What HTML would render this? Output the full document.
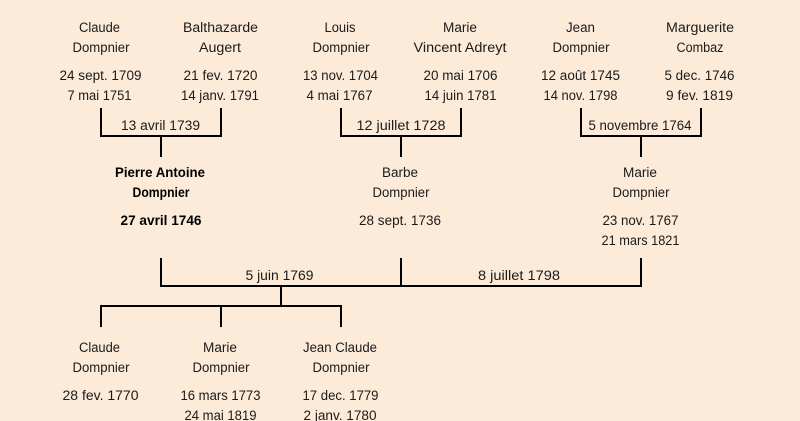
<!DOCTYPE html>
<html lang="fr">
<head>
<meta charset="utf-8">
<title>Arbre généalogique Dompnier</title>
<style>
html,body{margin:0;padding:0;background:#fdebd9;width:800px;height:421px;overflow:hidden}
svg{display:block}
text{font-family:"Liberation Sans",sans-serif;font-size:13.5px;fill:#1a1a1a;text-anchor:middle}
.b{font-weight:bold;fill:#000}
path{fill:none;stroke:#000;stroke-width:2;stroke-linejoin:miter;stroke-linecap:butt}
</style>
</head>
<body>
<svg width="800" height="421" viewBox="0 0 800 421" xmlns="http://www.w3.org/2000/svg">
<rect width="800" height="421" fill="#fdebd9"/>

<path d="M101 108V136H221V108M161 136V157"/>
<path d="M341 108V136H461V108M401 136V157"/>
<path d="M581 108V136H701V108M641 136V157"/>
<path d="M161 258V286H641V258M401 258V286"/>
<path d="M281 286V306M101 327V306H341V327M221 306V327"/>

<text x="99.5" y="32" textLength="41" lengthAdjust="spacingAndGlyphs">Claude</text>
<text x="101" y="52" textLength="57" lengthAdjust="spacingAndGlyphs">Dompnier</text>
<text x="100.5" y="80" textLength="82" lengthAdjust="spacingAndGlyphs">24 sept. 1709</text>
<text x="99.5" y="100" textLength="64" lengthAdjust="spacingAndGlyphs">7 mai 1751</text>

<text x="220.5" y="32" textLength="75" lengthAdjust="spacingAndGlyphs">Balthazarde</text>
<text x="220" y="52" textLength="42" lengthAdjust="spacingAndGlyphs">Augert</text>
<text x="220.5" y="80" textLength="74" lengthAdjust="spacingAndGlyphs">21 fev. 1720</text>
<text x="220" y="100" textLength="78" lengthAdjust="spacingAndGlyphs">14 janv. 1791</text>

<text x="340" y="32" textLength="31" lengthAdjust="spacingAndGlyphs">Louis</text>
<text x="341" y="52" textLength="57" lengthAdjust="spacingAndGlyphs">Dompnier</text>
<text x="340.5" y="80" textLength="75" lengthAdjust="spacingAndGlyphs">13 nov. 1704</text>
<text x="339.5" y="100" textLength="66" lengthAdjust="spacingAndGlyphs">4 mai 1767</text>

<text x="460" y="32" textLength="34" lengthAdjust="spacingAndGlyphs">Marie</text>
<text x="460" y="52" textLength="93" lengthAdjust="spacingAndGlyphs">Vincent Adreyt</text>
<text x="460.5" y="80" textLength="74" lengthAdjust="spacingAndGlyphs">20 mai 1706</text>
<text x="460.5" y="100" textLength="72" lengthAdjust="spacingAndGlyphs">14 juin 1781</text>

<text x="580.5" y="32" textLength="29" lengthAdjust="spacingAndGlyphs">Jean</text>
<text x="581" y="52" textLength="57" lengthAdjust="spacingAndGlyphs">Dompnier</text>
<text x="580.5" y="80" textLength="79" lengthAdjust="spacingAndGlyphs">12 août 1745</text>
<text x="580.5" y="100" textLength="74" lengthAdjust="spacingAndGlyphs">14 nov. 1798</text>

<text x="700" y="32" textLength="68" lengthAdjust="spacingAndGlyphs">Marguerite</text>
<text x="700" y="52" textLength="47" lengthAdjust="spacingAndGlyphs">Combaz</text>
<text x="699.5" y="80" textLength="70" lengthAdjust="spacingAndGlyphs">5 dec. 1746</text>
<text x="699.5" y="100" textLength="67" lengthAdjust="spacingAndGlyphs">9 fev. 1819</text>

<text x="160.5" y="130" textLength="79" lengthAdjust="spacingAndGlyphs">13 avril 1739</text>
<text x="401" y="130" textLength="89" lengthAdjust="spacingAndGlyphs">12 juillet 1728</text>
<text x="640" y="130" textLength="103" lengthAdjust="spacingAndGlyphs">5 novembre 1764</text>

<text class="b" x="160" y="177" textLength="90" lengthAdjust="spacingAndGlyphs">Pierre Antoine</text>
<text class="b" x="161" y="197" textLength="57" lengthAdjust="spacingAndGlyphs">Dompnier</text>
<text class="b" x="161" y="225" textLength="81" lengthAdjust="spacingAndGlyphs">27 avril 1746</text>

<text x="400" y="177" textLength="36" lengthAdjust="spacingAndGlyphs">Barbe</text>
<text x="401" y="197" textLength="57" lengthAdjust="spacingAndGlyphs">Dompnier</text>
<text x="400" y="225" textLength="82" lengthAdjust="spacingAndGlyphs">28 sept. 1736</text>

<text x="640" y="177" textLength="34" lengthAdjust="spacingAndGlyphs">Marie</text>
<text x="641" y="197" textLength="57" lengthAdjust="spacingAndGlyphs">Dompnier</text>
<text x="640.5" y="225" textLength="76" lengthAdjust="spacingAndGlyphs">23 nov. 1767</text>
<text x="640.5" y="245" textLength="78" lengthAdjust="spacingAndGlyphs">21 mars 1821</text>

<text x="279.5" y="280" textLength="68" lengthAdjust="spacingAndGlyphs">5 juin 1769</text>
<text x="519" y="280" textLength="82" lengthAdjust="spacingAndGlyphs">8 juillet 1798</text>

<text x="99.5" y="352" textLength="41" lengthAdjust="spacingAndGlyphs">Claude</text>
<text x="101" y="372" textLength="57" lengthAdjust="spacingAndGlyphs">Dompnier</text>
<text x="100.5" y="400" textLength="76" lengthAdjust="spacingAndGlyphs">28 fev. 1770</text>

<text x="220" y="352" textLength="34" lengthAdjust="spacingAndGlyphs">Marie</text>
<text x="221" y="372" textLength="57" lengthAdjust="spacingAndGlyphs">Dompnier</text>
<text x="220.5" y="400" textLength="80" lengthAdjust="spacingAndGlyphs">16 mars 1773</text>
<text x="220.5" y="420" textLength="72" lengthAdjust="spacingAndGlyphs">24 mai 1819</text>

<text x="340" y="352" textLength="74" lengthAdjust="spacingAndGlyphs">Jean Claude</text>
<text x="341" y="372" textLength="57" lengthAdjust="spacingAndGlyphs">Dompnier</text>
<text x="340.5" y="400" textLength="76" lengthAdjust="spacingAndGlyphs">17 dec. 1779</text>
<text x="340" y="420" textLength="73" lengthAdjust="spacingAndGlyphs">2 janv. 1780</text>
</svg>
</body>
</html>
